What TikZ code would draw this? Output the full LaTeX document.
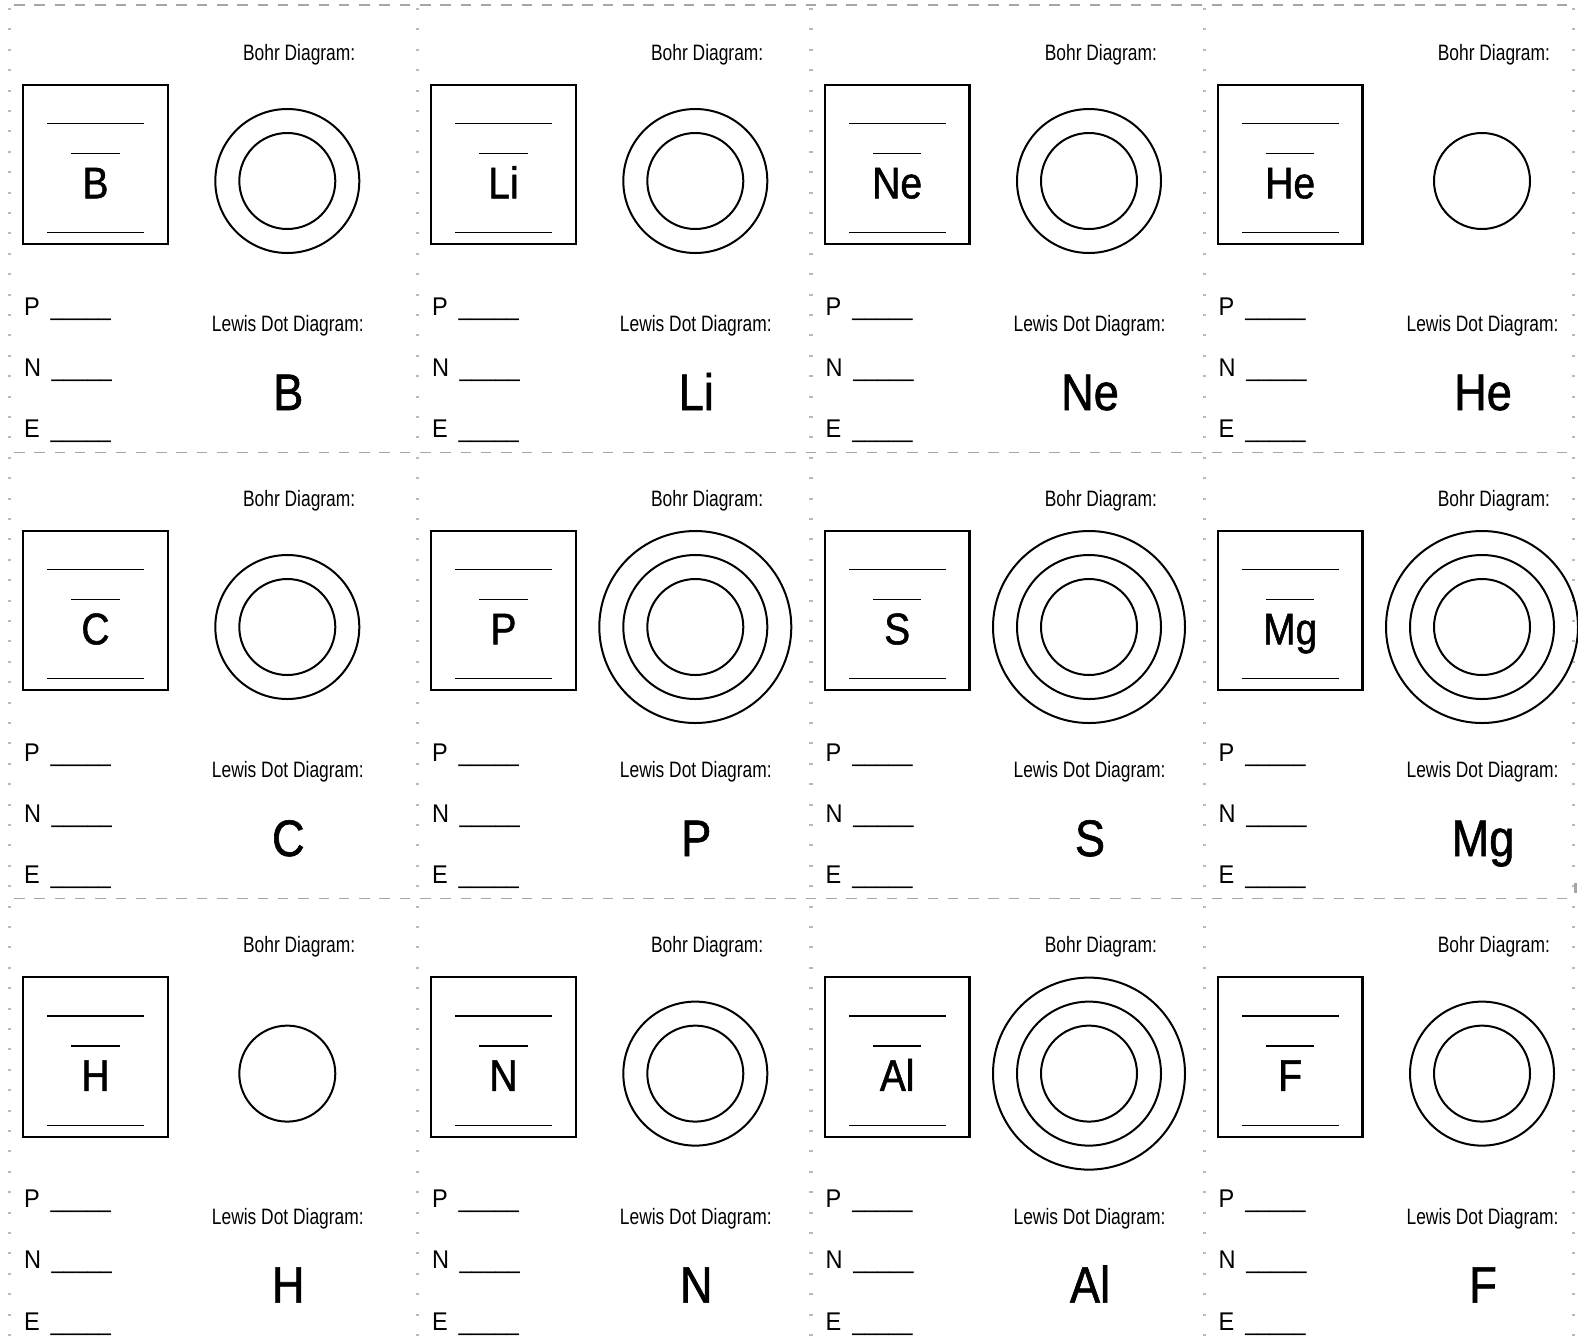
\documentclass[tikz,border=0pt]{standalone}
\usepackage{fontspec}
\setmainfont{Liberation Sans}
\newfontfamily\narrowf{Liberation Sans}[FakeStretch=0.78]
\newfontfamily\undf{Liberation Sans}[FakeStretch=0.845]
\newfontfamily\symf{Liberation Sans}[FakeStretch=0.88, FakeBold=1.2]
\newfontfamily\pnef{Liberation Sans}[FakeStretch=0.92]
\begin{document}
\begin{tikzpicture}[x=1pt,y=-1pt,
  txt/.style={inner sep=0pt, outer sep=0pt, anchor=base},
  lbl/.style={txt, font=\narrowf\fontsize{22.3}{26}\selectfont},
  boxsym/.style={txt, font=\symf\fontsize{44.3}{50}\selectfont},
  lewsym/.style={txt, font=\symf\fontsize{51.3}{58}\selectfont},
  pne/.style={txt, anchor=base west, font=\pnef\fontsize{25.6}{30}\selectfont},
  blank/.style={txt, anchor=base west, font=\undf\fontsize{25.6}{30}\selectfont},
  elembox/.style={draw, line width=2.2pt, inner sep=0pt, outer sep=0pt, minimum width=144.7pt, minimum height=159.6pt, anchor=north west},
  ring/.style={draw, circle, line width=2pt, inner sep=0pt, outer sep=0pt},
  boxline/.style={line width=1.4pt},
  vborder/.style={gray!55, line width=3.2pt, dash pattern=on 2pt off 18.4pt},
  hborder/.style={gray!70, line width=1.3pt, dash pattern=on 10.5pt off 9.8pt}
]
\useasboundingbox (0,0) rectangle (1578,1342);
% borders
\foreach \bx in {9.3,417.3,811,1204.3,1573.3}
  \draw[vborder] (\bx,8) -- (\bx,1342);
\foreach \by in {5,452.3,898.3}
  \draw[hborder] (14,\by) -- (1568,\by);
\fill[gray!70] (1573.6,883) rectangle (1576.6,893);
% cells
\foreach \sym/\dx/\dy/\rings [count=\k] in {
  B/0/0/2, Li/408/0/2, Ne/801.7/0/2, He/1194.7/0/1,
  C/0/446/2, P/408/446/3, S/801.7/446/3, Mg/1194.7/446/3,
  H/0/892.6/1, N/408/892.6/2, Al/801.7/892.6/3, F/1194.7/892.6/2}{
\begin{scope}[shift={(\dx,\dy)}]
  \node[lbl] (bohr\k) at (299.2,60) {Bohr Diagram:};
  \node[elembox] (box\k) at (23,84.7) {};
  \coordinate (a\k) at (47.3,123.3); \coordinate (b\k) at (144,123.3);
  \coordinate (c\k) at (71.3,153.3); \coordinate (d\k) at (119.7,153.3);
  \coordinate (e\k) at (47.3,232.7); \coordinate (f\k) at (144,232.7);
  \draw[boxline] (a\k) -- (b\k);
  \draw[boxline] (c\k) -- (d\k);
  \draw[boxline] (e\k) -- (f\k);
  \node[boxsym] (sym\k) at (95.5,198.3) {\sym};
  \coordinate (bc\k) at (287.3,181);
  \foreach \rr in {1,...,\rings}{
    \pgfmathsetmacro\dia{48*(\rr+1)}
    \node[ring, minimum size=\dia pt] (ring\k-\rr) at (bc\k) {};
  }
  \node[pne] (p\k) at (24,315) {P};
  \node[blank] (pb\k) at (50.7,315) {\_\_\_\_\_};
  \node[pne] (n\k) at (24,376) {N};
  \node[blank] (nb\k) at (51.7,376) {\_\_\_\_\_};
  \node[pne] (e\k) at (24,437.7) {E};
  \node[blank] (eb\k) at (50.7,437.7) {\_\_\_\_\_};
  \node[lbl] (lewis\k) at (287.8,331.7) {Lewis Dot Diagram:};
  \node[lewsym] (lsym\k) at (288.3,410) {\sym};
\end{scope}
}
\end{tikzpicture}
\end{document}
